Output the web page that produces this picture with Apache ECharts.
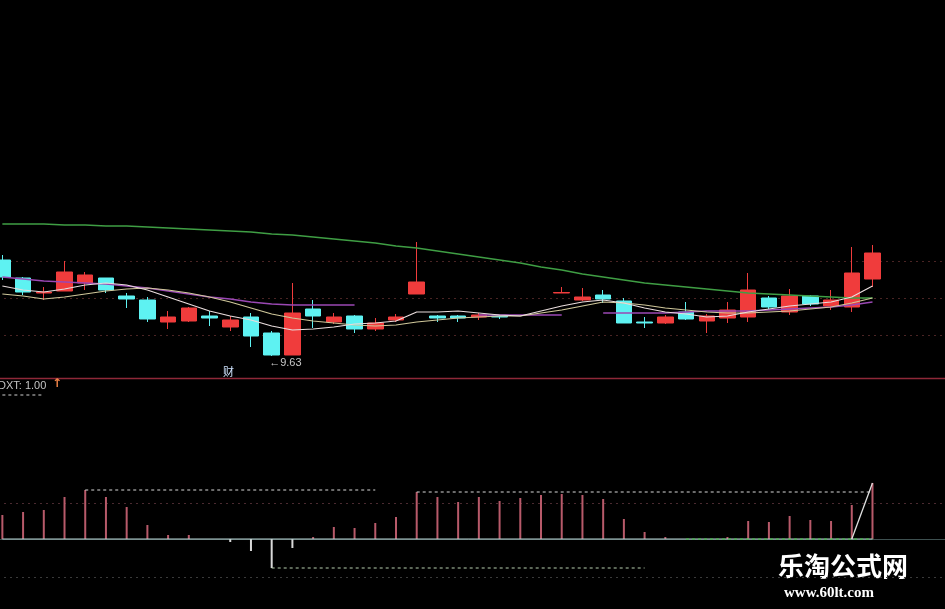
<!DOCTYPE html>
<html>
<head>
<meta charset="utf-8">
<script src="https://cdn.jsdelivr.net/npm/echarts@6/dist/echarts.min.js"></script>
<style>html,body{margin:0;padding:0;background:#000;overflow:hidden;width:945px;height:609px;position:relative;}#c{position:absolute;left:-8px;top:0;width:953px;height:609px;}</style>
</head>
<body>
<div id="c"></div>
<script>
// ---- data ----
const categories = ['1','2','3','4','5','6','7','8','9','10','11','12','13','14','15','16','17','18','19','20','21','22','23','24','25','26','27','28','29','30','31','32','33','34','35','36','37','38','39','40','41','42','43','44','45','46'];
// [open, close, low, high]
const candles = [
 [10.59,10.42,10.39,10.64],[10.41,10.27,10.24,10.42],[10.26,10.27,10.19,10.32],[10.28,10.47,10.28,10.58],
 [10.36,10.44,10.29,10.47],[10.41,10.29,10.26,10.41],[10.23,10.20,10.11,10.26],[10.19,10.00,9.97,10.22],
 [9.97,10.02,9.90,10.08],[9.98,10.11,9.97,10.12],[10.03,10.01,9.93,10.08],[9.92,9.99,9.88,10.03],
 [10.02,9.83,9.72,10.06],[9.86,9.64,9.63,9.88],[9.64,10.06,9.64,10.36],[10.10,10.03,9.91,10.19],
 [9.97,10.02,9.95,10.06],[10.03,9.90,9.86,10.04],[9.90,9.96,9.88,10.01],[9.99,10.02,9.97,10.05],
 [10.25,10.37,10.25,10.77],[10.03,10.01,9.97,10.04],[10.03,10.01,9.97,10.04],[10.02,10.04,9.99,10.06],
 [10.03,10.02,10.00,10.04],'-','-',[10.26,10.265,10.26,10.32],
 [10.19,10.22,10.18,10.31],[10.24,10.20,10.16,10.29],[10.18,9.96,9.96,10.21],[9.97,9.96,9.91,10.02],
 [9.96,10.02,9.95,10.04],[10.07,10.00,9.99,10.17],[9.98,10.03,9.86,10.05],[10.01,10.09,9.96,10.17],
 [10.02,10.29,9.97,10.46],[10.21,10.12,10.10,10.23],[10.07,10.23,10.04,10.30],[10.23,10.15,10.13,10.24],
 [10.13,10.19,10.09,10.29],[10.12,10.46,10.07,10.72],[10.40,10.66,10.32,10.74]
];
const ma5 = [10.33,10.29,10.27,10.30,10.34,10.36,10.34,10.29,10.22,10.15,10.08,10.03,9.99,9.93,9.89,9.90,9.92,9.95,9.96,9.98,10.07,10.07,10.08,10.06,10.04,10.03,10.08,10.13,10.17,10.19,10.16,10.11,10.07,10.05,10.02,10.03,10.07,10.10,10.13,10.15,10.17,10.22,10.33];
const ma10 = [10.25,10.23,10.20,10.22,10.25,10.28,10.30,10.31,10.29,10.26,10.22,10.17,10.11,10.05,10.01,9.98,9.96,9.94,9.93,9.94,9.97,9.99,10.01,10.02,10.03,10.03,10.06,10.09,10.13,10.17,10.16,10.14,10.11,10.09,10.07,10.06,10.06,10.07,10.08,10.10,10.12,10.16,10.21];
const ma20 = [10.42,10.40,10.38,10.37,10.36,10.35,10.33,10.31,10.28,10.25,10.22,10.20,10.17,10.15,10.14,10.14,10.14,10.14,null,null,null,null,null,10.04,10.04,10.04,10.04,10.04,null,10.06,10.06,10.06,10.06,10.07,10.08,10.08,10.08,10.09,10.10,10.11,10.12,10.14,10.17];
const ma60 = [10.95,10.95,10.95,10.94,10.94,10.93,10.93,10.92,10.91,10.90,10.89,10.88,10.87,10.85,10.84,10.82,10.80,10.78,10.76,10.73,10.71,10.68,10.65,10.62,10.59,10.56,10.52,10.49,10.45,10.42,10.39,10.36,10.34,10.32,10.30,10.28,10.26,10.25,10.24,10.23,10.22,10.21,10.21];
const gridPrices = [10.58, 10.21, 9.84];
const lowLabelIndex = 13;
// indicator panel
const dxt = [24,27,29,42,49,42,32,14,4,4,0,-3,-12,-29,-9,2,12,11,16,22,47,42,37,42,38,41,44,45,44,40,20,7,2,0,0,2,18,17,23,19,18,34,56];
const bandHigh1 = {from:4, to:18, level:49};
const bandHigh2 = {from:20, to:42, level:47};
const bandLow = {from:13, to:31, level:-29};
const zeroGreen = {from:33, to:42, level:0};
const headDash = {from:0, to:2, level:144};
const jump = {from:41, to:42, values:[0,56]};
const indGrid = [36, -38];
const dxtValue = 1.00;

// ---- helpers ----
const N = dxt.length;
const OX = 8; // container is shifted 8px left
function band(b){ const a=[]; for(let i=0;i<N;i++) a.push(i>=b.from&&i<=b.to?b.level:null); return a; }
function seg(s){ const a=[]; for(let i=0;i<N;i++) a.push(i>=s.from&&i<=s.to?s.values[i-s.from]:null); return a; }
const zeroLine = dxt.map(()=>0);
const empty = dxt.map(()=>null);

const chart = echarts.init(document.getElementById('c'), null, {renderer:'canvas'});
const lineBase = {type:'line', symbol:'none', silent:true, connectNulls:false, z:3};
chart.setOption({
  backgroundColor:'#000',
  animation:false,
  grid:[
    {left:0, top:0, width:953, height:378},
    {left:0, top:379, width:953, height:230}
  ],
  xAxis:[
    {type:'category', data:categories, gridIndex:0, boundaryGap:true, show:false},
    {type:'category', data:categories, gridIndex:1, boundaryGap:true, show:false}
  ],
  yAxis:[
    {type:'value', gridIndex:0, min:9.41, max:13.19, show:false, splitLine:{show:false}},
    {type:'value', gridIndex:1, min:-70, max:160, show:false, splitLine:{show:false}}
  ],
  series:[
    // background dotted grid (behind marks)
    {type:'line', xAxisIndex:0, yAxisIndex:0, data:empty, symbol:'none', silent:true, z:1,
     markLine:{silent:true, z:0, symbol:'none', label:{show:false},
       lineStyle:{color:'#4a2424', type:[2,4], width:1},
       data:gridPrices.map(v=>({yAxis:v}))}},
    {type:'line', xAxisIndex:1, yAxisIndex:1, data:empty, symbol:'none', silent:true, z:1,
     markLine:{silent:true, z:0, symbol:'none', label:{show:false},
       data:[
         {yAxis:0, lineStyle:{color:'#3e5050', type:'solid', width:1}},
         {yAxis:indGrid[0], lineStyle:{color:'#4a2a30', type:[2,4], width:1}},
         {yAxis:indGrid[1], lineStyle:{color:'#3a3a3a', type:[2,4], width:1}}
       ]}},
    {type:'candlestick', xAxisIndex:0, yAxisIndex:0, data:candles, barWidth:16, silent:true, z:2,
     itemStyle:{color:'#f03c3c', color0:'#5ef2f2', borderColor:'#f03c3c', borderColor0:'#5ef2f2', borderColorDoji:'#5ef2f2', borderWidth:1},
     markPoint:{silent:true, data:[{coord:[lowLabelIndex, candles[lowLabelIndex][2]], symbol:'circle', symbolSize:1,
       itemStyle:{color:'rgba(0,0,0,0)'},
       label:{show:true, position:'right', distance:-3, offset:[0,7], formatter:'←'+candles[lowLabelIndex][2].toFixed(2), color:'#c8c8c8', fontSize:11, fontFamily:'Liberation Sans'}}]}
    },
    Object.assign({}, lineBase, {xAxisIndex:0, yAxisIndex:0, data:ma60, lineStyle:{color:'#3f9e44', width:1.3}}),
    Object.assign({}, lineBase, {xAxisIndex:0, yAxisIndex:0, data:ma20, lineStyle:{color:'#9a48b4', width:1.3}}),
    Object.assign({}, lineBase, {xAxisIndex:0, yAxisIndex:0, data:ma10, lineStyle:{color:'#cfc79a', width:1.2}}),
    Object.assign({}, lineBase, {xAxisIndex:0, yAxisIndex:0, data:ma5, lineStyle:{color:'#e8dcdc', width:1.2}}),
    // indicator panel
    {type:'bar', xAxisIndex:1, yAxisIndex:1, data:dxt, barWidth:2, silent:true, z:2,
     itemStyle:{color:p=>p.value>=0?'#b85a6a':'#d8d8d8'}},
    Object.assign({}, lineBase, {xAxisIndex:1, yAxisIndex:1, data:zeroLine, lineStyle:{color:'#b8d4d4', width:1.2}}),
    Object.assign({}, lineBase, {xAxisIndex:1, yAxisIndex:1, data:band(bandHigh1), lineStyle:{color:'#d8d8d8', width:1.2, type:[3,3]}}),
    Object.assign({}, lineBase, {xAxisIndex:1, yAxisIndex:1, data:band(bandHigh2), lineStyle:{color:'#d8d8d8', width:1.2, type:[3,3]}}),
    Object.assign({}, lineBase, {xAxisIndex:1, yAxisIndex:1, data:band(bandLow), lineStyle:{color:'#b8d0b0', width:1.2, type:[3,3]}}),
    Object.assign({}, lineBase, {xAxisIndex:1, yAxisIndex:1, data:band(zeroGreen), lineStyle:{color:'#3cc03c', width:1.2, type:[3,3]}}),
    Object.assign({}, lineBase, {xAxisIndex:1, yAxisIndex:1, data:band(headDash), lineStyle:{color:'#d0d0d0', width:1.2, type:[3,3]}}),
    Object.assign({}, lineBase, {xAxisIndex:1, yAxisIndex:1, data:seg(jump), lineStyle:{color:'#e0e0e0', width:1.3}})
  ],
  graphic:[
    {type:'line', silent:true, shape:{x1:0,y1:378.5,x2:953,y2:378.5}, style:{stroke:'#8e2838', lineWidth:1.5}},
    {type:'text', silent:true, left:-2+OX, top:380, style:{text:'DXT: '+dxtValue.toFixed(2), fill:'#c4c4c4', font:'11px "Liberation Sans"'}},
    {type:'text', silent:true, left:52+OX, top:378, style:{text:'↑', fill:'#f08448', font:'bold 12px "DejaVu Sans"'}},
    {type:'text', silent:true, left:223+OX, top:366, style:{text:'财', fill:'#cfe4ff', font:'11px "Noto Sans CJK SC"'}},
    {type:'text', silent:true, left:778+OX, top:553, style:{text:'乐淘公式网', fill:'#ffffff', font:'bold 26px "Noto Sans CJK SC"'}},
    {type:'text', silent:true, left:784+OX, top:586, style:{text:'www.60lt.com', fill:'#ffffff', font:'bold 15px "Liberation Serif"'}}
  ]
});
</script>
</body>
</html>
